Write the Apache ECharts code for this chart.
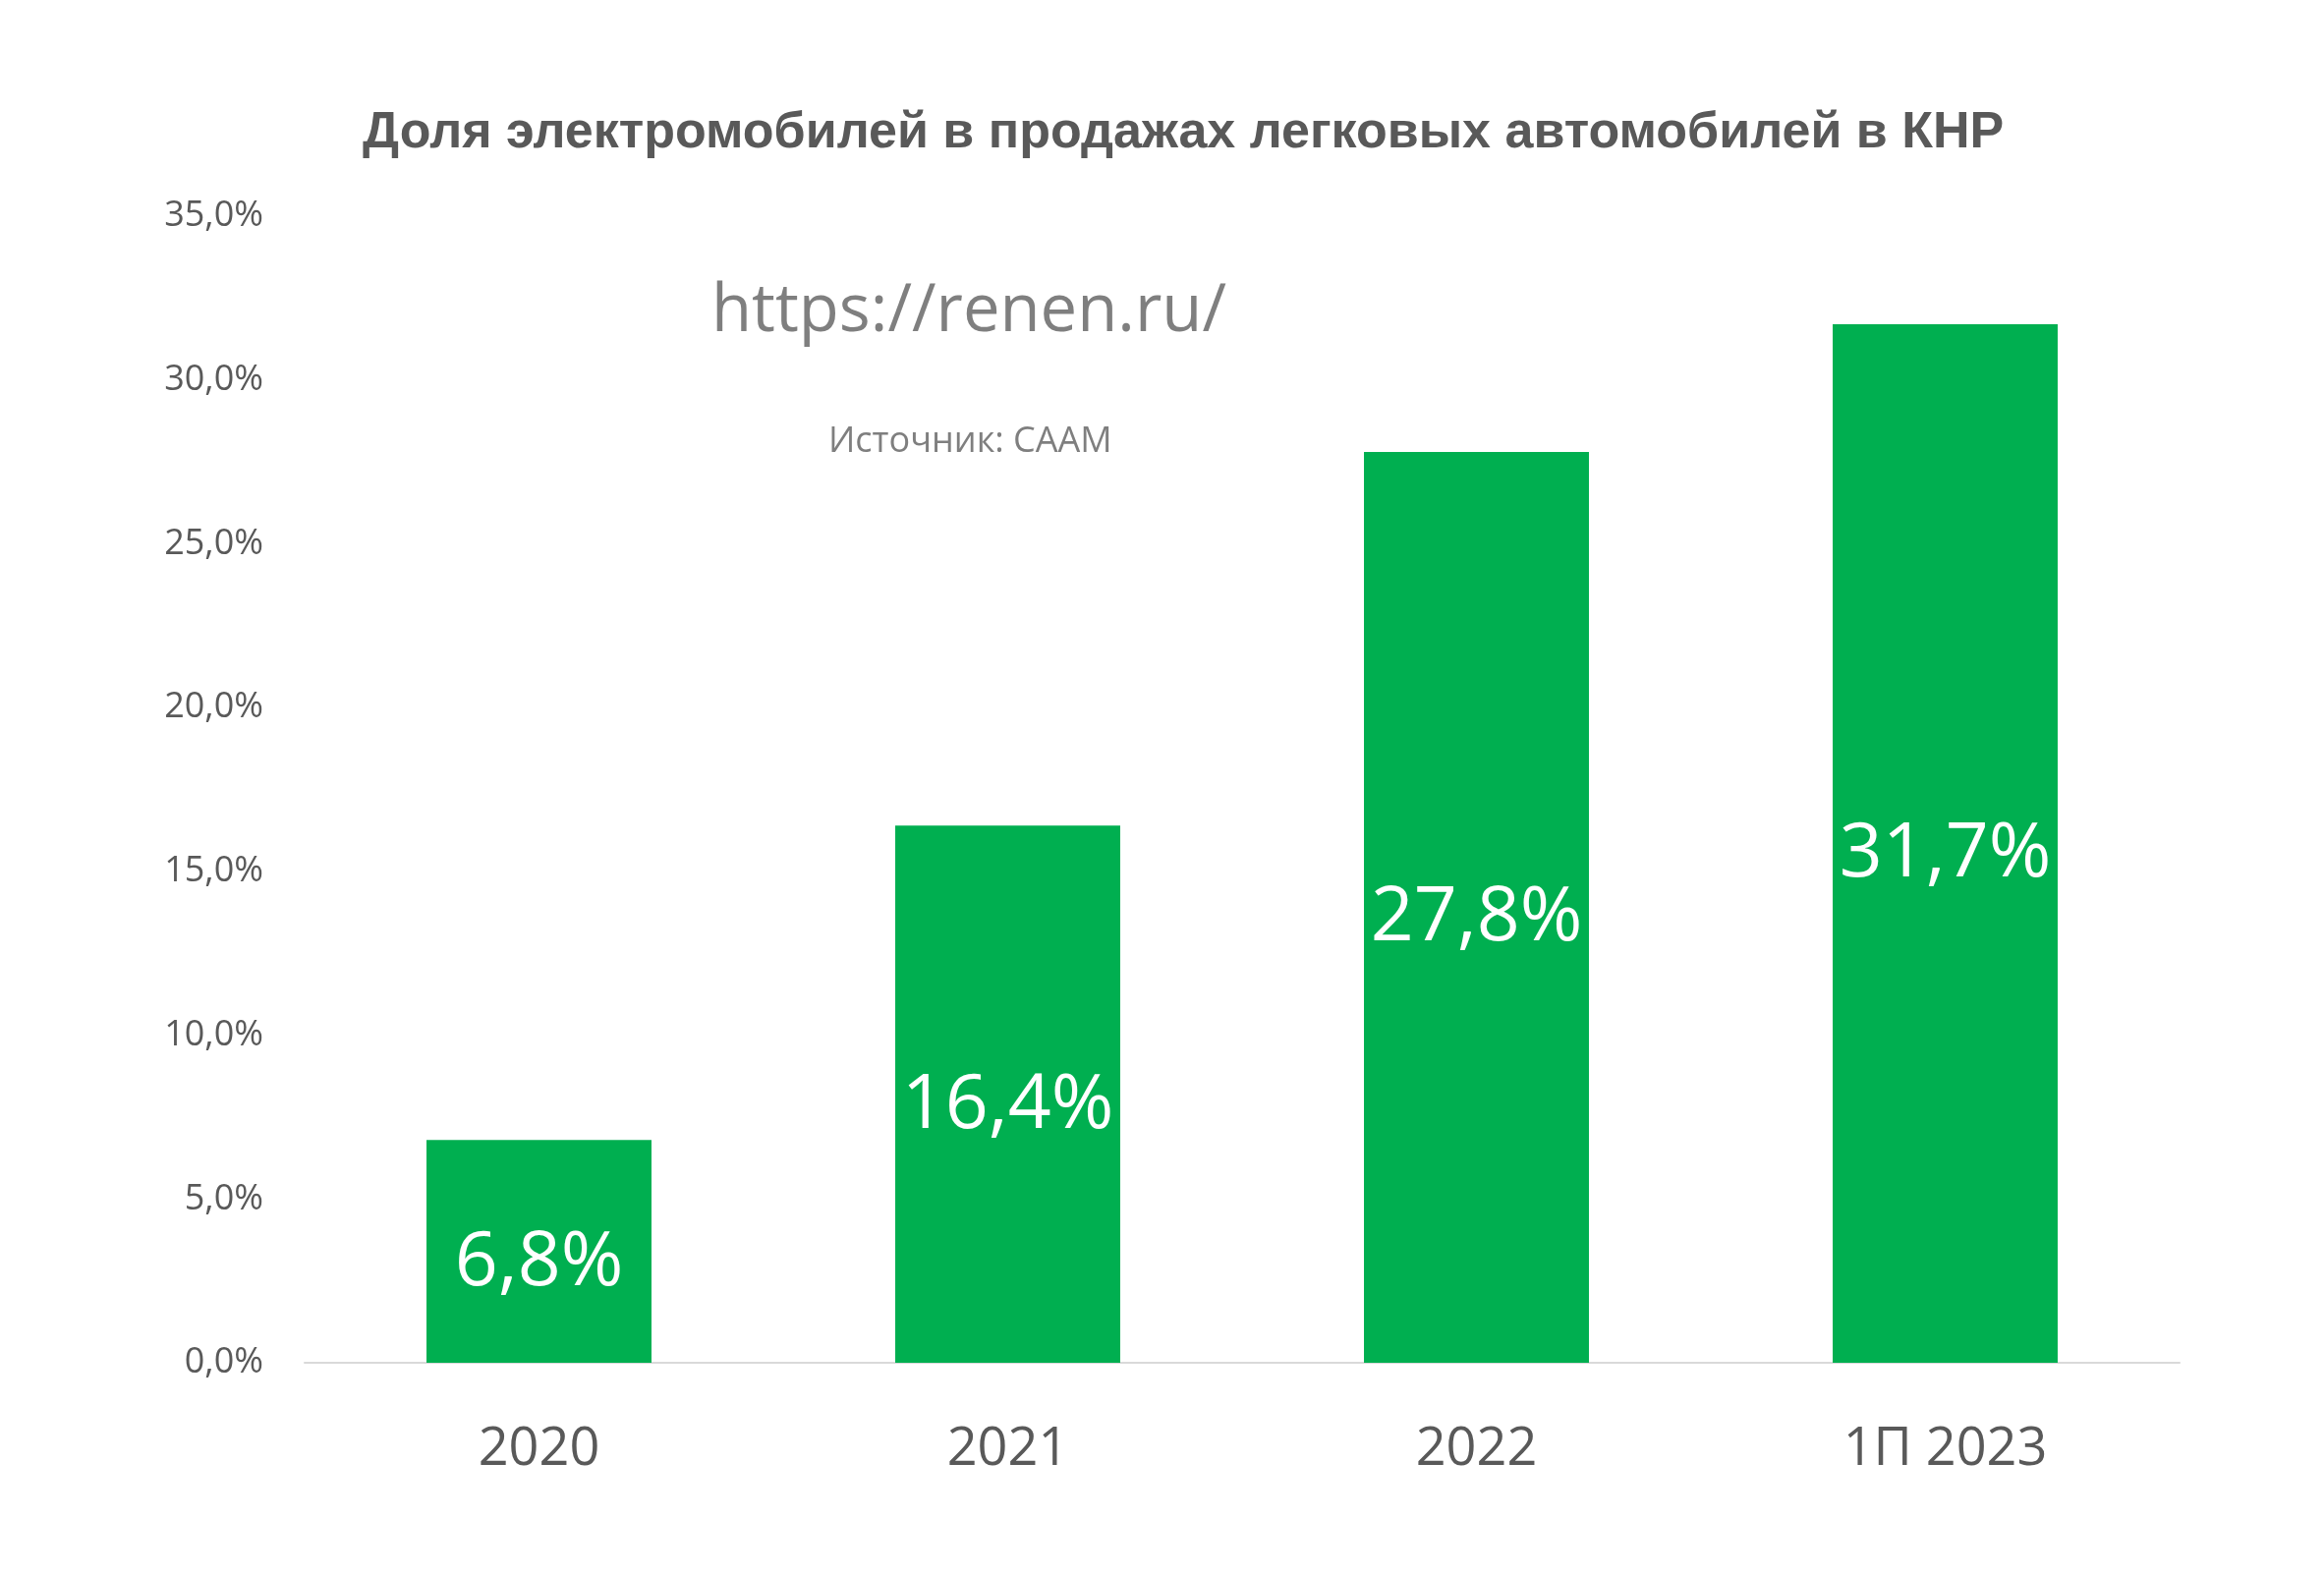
<!DOCTYPE html>
<html>
<head>
<meta charset="utf-8">
<script src="https://cdn.jsdelivr.net/npm/echarts@6/dist/echarts.min.js"></script>
<style>
html,body{margin:0;padding:0;background:#fff;}
#chart{width:2365px;height:1603px;}
</style>
</head>
<body>
<div id="chart"></div>
<script>
const titleText = 'Доля электромобилей в продажах легковых автомобилей в КНР';
const categories = ['2020', '2021', '2022', '1П 2023'];
const shareValues = [6.8, 16.4, 27.8, 31.7];
const watermarkText = 'https://renen.ru/';
const sourceText = 'Источник: CAAM';

const fmt = v => v.toFixed(1).replace('.', ',') + '%';

const chart = echarts.init(document.getElementById('chart'));
chart.setOption({
  backgroundColor: '#ffffff',
  animation: false,
  title: {
    text: titleText,
    left: 364,
    top: 105,
    textStyle: {
      fontFamily: '"Liberation Sans Narrow", "Liberation Sans", Arial, sans-serif',
      fontWeight: 'bold',
      fontSize: 52,
      color: '#595959'
    }
  },
  grid: { left: 310, right: 147, top: 220, bottom: 216 },
  xAxis: {
    type: 'category',
    data: categories,
    axisLine: { show: true, lineStyle: { color: '#d9d9d9', width: 2 } },
    axisTick: { show: false },
    axisLabel: {
      margin: 62,
      fontFamily: '"Open Sans", sans-serif',
      fontSize: 54,
      color: '#595959'
    }
  },
  yAxis: {
    type: 'value',
    min: 0,
    max: 35,
    interval: 5,
    splitLine: { show: false },
    axisLine: { show: false },
    axisTick: { show: false },
    axisLabel: {
      margin: 42,
      fontFamily: '"Open Sans", sans-serif',
      fontSize: 36,
      color: '#595959',
      formatter: v => fmt(v)
    }
  },
  series: [{
    type: 'bar',
    data: shareValues,
    barCategoryGap: '52%',
    itemStyle: { color: '#00AF50' },
    label: {
      show: true,
      position: 'inside',
      offset: [0, 12],
      fontFamily: '"Open Sans", sans-serif',
      fontSize: 77,
      color: '#ffffff',
      formatter: p => fmt(p.value)
    }
  }],
  graphic: [
    {
      type: 'text',
      left: 724,
      top: 284,
      style: {
        text: watermarkText,
        fontFamily: '"Open Sans", sans-serif',
        fontSize: 67,
        fill: '#7f7f7f'
      }
    },
    {
      type: 'text',
      left: 843,
      top: 432,
      style: {
        text: sourceText,
        fontFamily: '"Open Sans", sans-serif',
        fontSize: 36,
        fill: '#7f7f7f'
      }
    }
  ]
});
</script>
</body>
</html>
